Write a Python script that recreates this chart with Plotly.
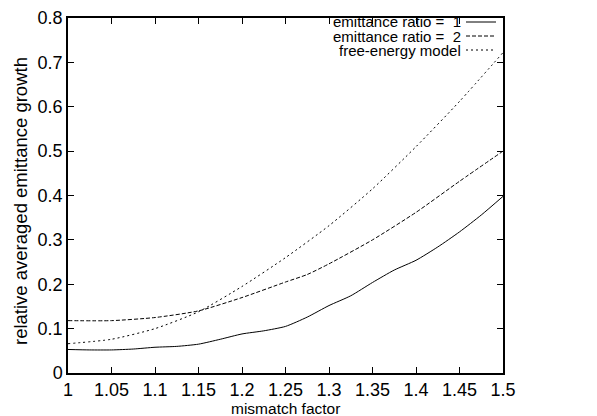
import plotly.graph_objects as go

# Data
x_ratio1 = [1.0, 1.025, 1.05, 1.075, 1.1, 1.125, 1.15, 1.175, 1.2, 1.225, 1.25, 1.275, 1.3, 1.325, 1.35, 1.375, 1.4, 1.425, 1.45, 1.475, 1.5]
y_ratio1 = [0.053, 0.052, 0.052, 0.054, 0.058, 0.060, 0.065, 0.076, 0.088, 0.095, 0.105, 0.126, 0.152, 0.174, 0.204, 0.232, 0.254, 0.284, 0.318, 0.356, 0.398]
x_ratio2 = [1.0, 1.05, 1.1, 1.15, 1.2, 1.25, 1.275, 1.3, 1.35, 1.4, 1.45, 1.5]
y_ratio2 = [0.118, 0.118, 0.125, 0.140, 0.170, 0.205, 0.222, 0.246, 0.300, 0.362, 0.432, 0.500]
x_model = [1.0, 1.05, 1.1, 1.15, 1.2, 1.25, 1.3, 1.35, 1.4, 1.45, 1.5]
y_model = [0.066, 0.076, 0.100, 0.138, 0.195, 0.260, 0.332, 0.415, 0.510, 0.612, 0.722]
legend_labels = ["emittance ratio =  1", "emittance ratio =  2", "free-energy model"]
x_ticks = [1, 1.05, 1.1, 1.15, 1.2, 1.25, 1.3, 1.35, 1.4, 1.45, 1.5]
y_ticks = [0, 0.1, 0.2, 0.3, 0.4, 0.5, 0.6, 0.7, 0.8]

FONT = "Liberation Sans, Arial, sans-serif"
dashes = ["solid", "4px,2px", "2px,3px"]

fig = go.Figure()
for xs, ys, d, name in [(x_ratio1, y_ratio1, dashes[0], legend_labels[0]),
                        (x_ratio2, y_ratio2, dashes[1], legend_labels[1]),
                        (x_model, y_model, dashes[2], legend_labels[2])]:
    fig.add_trace(go.Scatter(x=xs, y=ys, mode="lines", name=name,
                             line=dict(color="black", width=1, dash=d, shape="spline", smoothing=0.6),
                             showlegend=False))

# Custom legend: right-aligned text with line sample on the right
W, H = 597, 416
L, R, T, B = 68, 94, 18, 43
pw, ph = W - L - R, H - T - B
def px(xp):
    return (xp - L) / pw
def py(yp):
    return (H - B - yp) / ph
leg_y = [22, 36, 50]
for lbl, yy, d in zip(legend_labels, leg_y, dashes):
    fig.add_annotation(x=px(462), y=py(yy), xref="paper", yref="paper", text=lbl,
                       showarrow=False, xanchor="right", yanchor="middle", borderpad=0,
                       font=dict(family=FONT, size=15, color="black"))
    fig.add_shape(type="line", xref="paper", yref="paper", x0=px(466), x1=px(496),
                  y0=py(yy), y1=py(yy), line=dict(color="black", width=1, dash=d))

fig.add_annotation(x=px(20), y=py(201), xref="paper", yref="paper",
                   text="relative averaged emittance growth", textangle=-90,
                   showarrow=False, xanchor="center", yanchor="middle", borderpad=0,
                   font=dict(family=FONT, size=18.5, color="black"))
fig.add_annotation(x=0.5, y=py(408.5), xref="paper", yref="paper",
                   text="mismatch factor", showarrow=False, borderpad=0,
                   xanchor="center", yanchor="middle",
                   font=dict(family=FONT, size=15.5, color="black"))

fig.update_layout(
    width=W, height=H, margin=dict(l=L, r=R, t=T, b=B, autoexpand=False),
    paper_bgcolor="white", plot_bgcolor="white",
    font=dict(family=FONT, size=18, color="black"),
    xaxis=dict(range=[1, 1.5], tickvals=x_ticks, ticktext=[f"{v:g}" for v in x_ticks],
               ticks="inside", ticklen=6, tickcolor="black", mirror="ticks", automargin=False,
               showline=True, linecolor="black", linewidth=1.5, showgrid=False, zeroline=False),
    yaxis=dict(range=[0, 0.8], tickvals=y_ticks, ticktext=[f"{v:g}" for v in y_ticks],
               ticks="inside", ticklen=6, tickcolor="black", mirror="ticks", automargin=False,
               showline=True, linecolor="black", linewidth=1.5, showgrid=False, zeroline=False),
)
fig.write_html("out.html")
